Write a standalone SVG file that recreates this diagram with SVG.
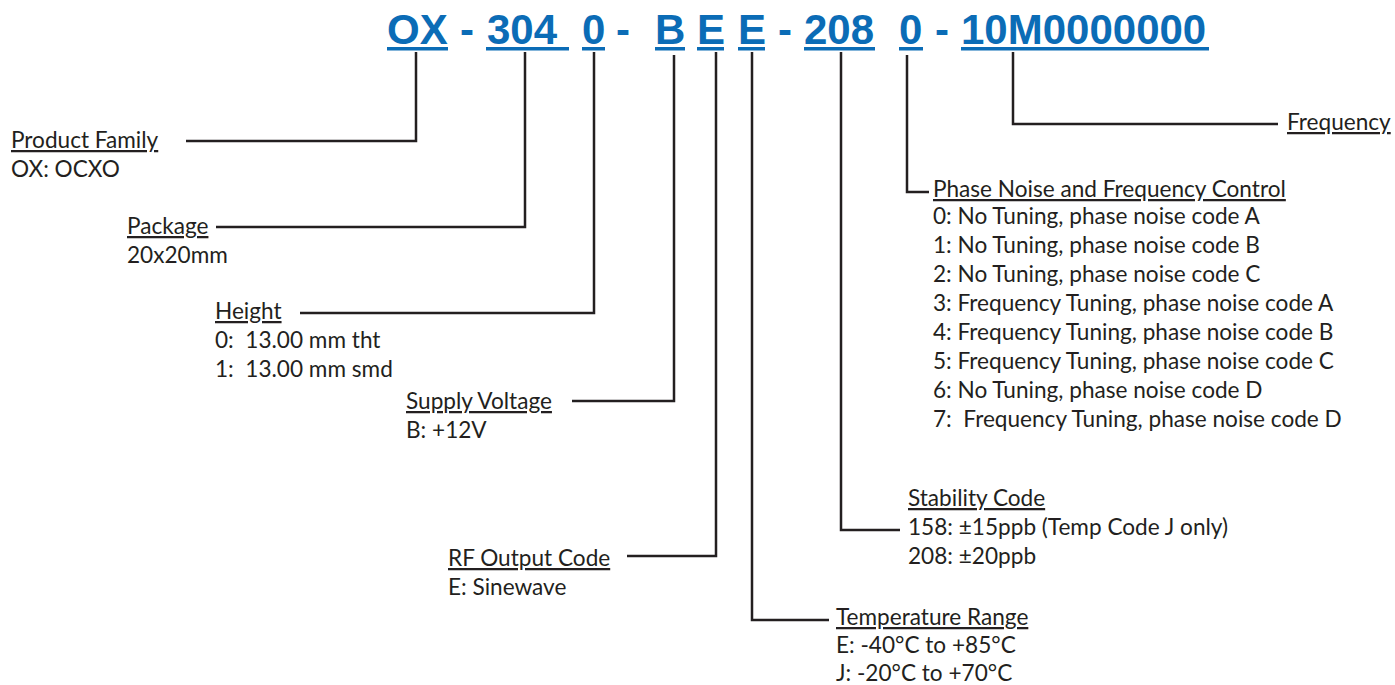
<svg xmlns="http://www.w3.org/2000/svg" width="1395" height="685" viewBox="0 0 1395 685">
<style>
.code{font-family:"Liberation Sans",Arial,sans-serif;font-weight:bold;font-size:42px;fill:#0b6cb6}
.ul{fill:#0b6cb6}
.h{font-family:Lato,"Open Sans",sans-serif;font-size:22.6px;fill:#231f20;text-decoration:underline}
.t{font-family:Lato,"Open Sans",sans-serif;font-size:22.6px;fill:#231f20}
.c{fill:none;stroke:#231f20;stroke-width:2.5}
</style>
<rect width="1395" height="685" fill="#ffffff"/>
<g id="part-number">
<text class="code" x="387" y="44">OX</text>
<text class="code" x="460" y="44">-</text>
<text class="code" x="487" y="44">304</text>
<text class="code" x="582" y="44">0</text>
<text class="code" x="616" y="44">-</text>
<text class="code" x="655" y="44">B</text>
<text class="code" x="697" y="44">E</text>
<text class="code" x="738" y="44">E</text>
<text class="code" x="778" y="44">-</text>
<text class="code" x="804" y="44">208</text>
<text class="code" x="899" y="44">0</text>
<text class="code" x="935" y="44">-</text>
<text class="code" x="961" y="44">10M0000000</text>
<rect class="ul" x="387" y="47" width="61" height="3.5"/>
<rect class="ul" x="486" y="47" width="83" height="3.5"/>
<rect class="ul" x="582" y="47" width="23" height="3.5"/>
<rect class="ul" x="655" y="47" width="30" height="3.5"/>
<rect class="ul" x="697" y="47" width="27" height="3.5"/>
<rect class="ul" x="738" y="47" width="27" height="3.5"/>
<rect class="ul" x="804" y="47" width="71" height="3.5"/>
<rect class="ul" x="899" y="47" width="24" height="3.5"/>
<rect class="ul" x="961" y="47" width="248" height="3.5"/>
</g>
<g id="connectors">
<path class="c" d="M416,52 V141 H186"/>
<path class="c" d="M525,52 V227 H216"/>
<path class="c" d="M594,52 V313 H300"/>
<path class="c" d="M674,55 V401 H572"/>
<path class="c" d="M716,52 V556 H627"/>
<path class="c" d="M752,52 V620 H829"/>
<path class="c" d="M841,52 V530 H900"/>
<path class="c" d="M907,55 V192 H929"/>
<path class="c" d="M1013,52 V124 H1278"/>
</g>
<g id="product-family">
<text class="h" x="11" y="148">Product Family</text>
<text class="t" x="11" y="177">OX: OCXO</text>
</g>
<g id="package">
<text class="h" x="127" y="234">Package</text>
<text class="t" x="127" y="263">20x20mm</text>
</g>
<g id="height">
<text class="h" x="215" y="319">Height</text>
<text class="t" x="215" y="348" xml:space="preserve">0:  13.00 mm tht</text>
<text class="t" x="215" y="377" xml:space="preserve">1:  13.00 mm smd</text>
</g>
<g id="supply-voltage">
<text class="h" x="406" y="409">Supply Voltage</text>
<text class="t" x="406" y="438">B: +12V</text>
</g>
<g id="rf-output">
<text class="h" x="448" y="566">RF Output Code</text>
<text class="t" x="448" y="595">E: Sinewave</text>
</g>
<g id="temperature-range">
<text class="h" x="836" y="625">Temperature Range</text>
<text class="t" x="836" y="653">E: -40°C to +85°C</text>
<text class="t" x="836" y="681">J: -20°C to +70°C</text>
</g>
<g id="stability-code">
<text class="h" x="908" y="506">Stability Code</text>
<text class="t" x="908" y="535">158: ±15ppb (Temp Code J only)</text>
<text class="t" x="908" y="564">208: ±20ppb</text>
</g>
<g id="phase-noise">
<text class="h" x="933" y="197">Phase Noise and Frequency Control</text>
<text class="t" x="933" y="224">0: No Tuning, phase noise code A</text>
<text class="t" x="933" y="253">1: No Tuning, phase noise code B</text>
<text class="t" x="933" y="282">2: No Tuning, phase noise code C</text>
<text class="t" x="933" y="311">3: Frequency Tuning, phase noise code A</text>
<text class="t" x="933" y="340">4: Frequency Tuning, phase noise code B</text>
<text class="t" x="933" y="369">5: Frequency Tuning, phase noise code C</text>
<text class="t" x="933" y="398">6: No Tuning, phase noise code D</text>
<text class="t" x="933" y="427" xml:space="preserve">7:  Frequency Tuning, phase noise code D</text>
</g>
<g id="frequency">
<text class="h" x="1287" y="130">Frequency</text>
</g>
</svg>
